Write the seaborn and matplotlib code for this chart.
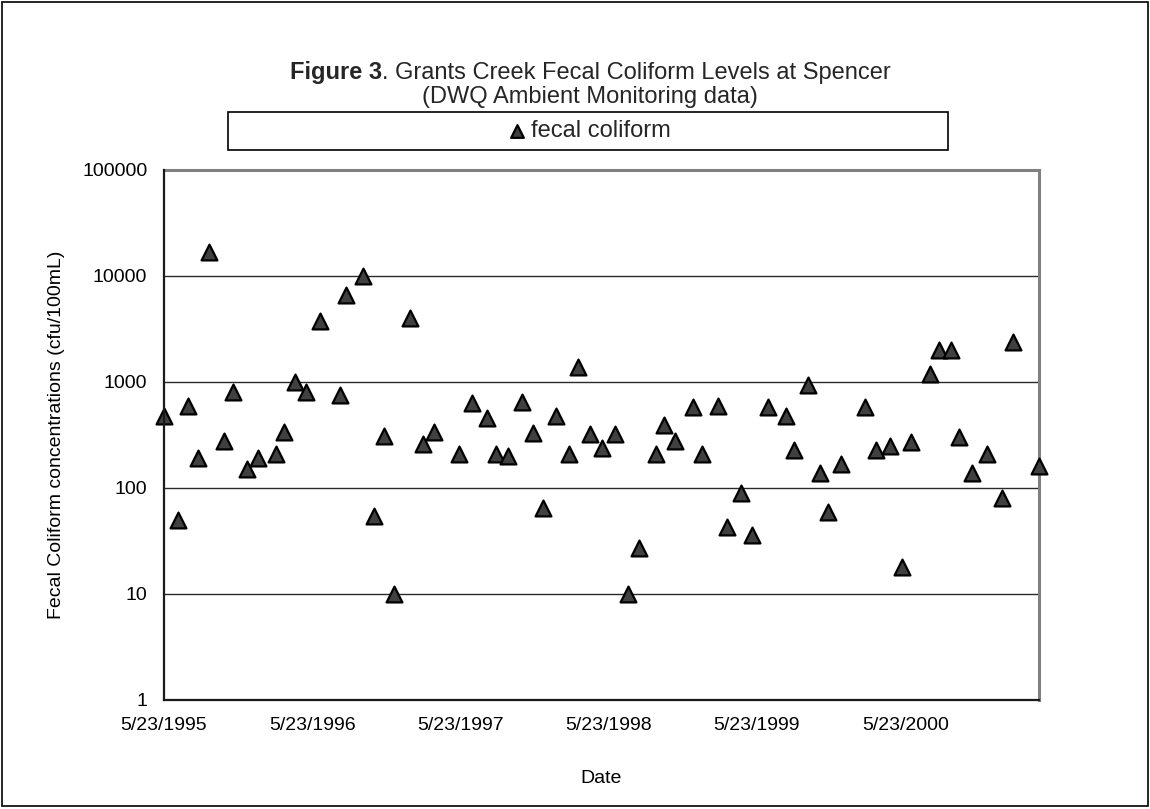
import matplotlib
matplotlib.use("Agg")
import matplotlib.pyplot as plt
from matplotlib.ticker import FixedLocator, FuncFormatter, NullLocator
from matplotlib.patches import Rectangle
import matplotlib.dates as mdates
import seaborn as sns
import pandas as pd

# Monthly ambient sampling, Grants Creek at Spencer
sample_dates = [
    "1995-05-23", "1995-06-26", "1995-07-21", "1995-08-15", "1995-09-12",
    "1995-10-19", "1995-11-08", "1995-12-14", "1996-01-10", "1996-02-24",
    "1996-03-13", "1996-04-11", "1996-05-08", "1996-06-11", "1996-07-30",
    "1996-08-13", "1996-09-25", "1996-10-21", "1996-11-14", "1996-12-10",
    "1997-01-17", "1997-02-19", "1997-03-18", "1997-05-19", "1997-06-19",
    "1997-07-28", "1997-08-19", "1997-09-17", "1997-10-22", "1997-11-17",
    "1997-12-11", "1998-01-12", "1998-02-13", "1998-03-09", "1998-04-06",
    "1998-05-06", "1998-06-08", "1998-07-09", "1998-08-05", "1998-09-16",
    "1998-10-07", "1998-11-01", "1998-12-16", "1999-01-07", "1999-02-15",
    "1999-03-11", "1999-04-13", "1999-05-10", "1999-06-20", "1999-08-02",
    "1999-08-23", "1999-09-27", "1999-10-25", "1999-11-14", "1999-12-16",
    "2000-02-13", "2000-03-12", "2000-04-15", "2000-05-15", "2000-06-06",
    "2000-07-23", "2000-08-14", "2000-09-11", "2000-10-03", "2000-11-04",
    "2000-12-10", "2001-01-16", "2001-02-11", "2001-04-16",
]
fecal_coliform = [
    480, 50, 600, 190, 17000,
    280, 800, 150, 190, 210,
    340, 1000, 800, 3800, 750,
    6600, 10000, 54, 310, 10,
    4000, 260, 340, 210, 640,
    460, 210, 200, 650, 330,
    65, 480, 210, 1400, 320,
    240, 320, 10, 27, 210,
    390, 280, 580, 210, 600,
    43, 90, 36, 580, 480,
    230, 930, 140, 60, 170,
    580, 230, 250, 18, 270,
    1200, 2000, 2000, 300, 140,
    210, 80, 2400, 160,
]
series_name = "fecal coliform"
y_tick_values = [1, 10, 100, 1000, 10000, 100000]
x_tick_dates = ["1995-05-23", "1996-05-23", "1997-05-23",
                "1998-05-23", "1999-05-23", "2000-05-23"]
x_limits = ("1995-05-23", "2001-04-17")

sns.set_theme(style="white")
plt.rcParams["font.family"] = ["Liberation Sans", "DejaVu Sans"]

W, H = 1150, 809
fig = plt.figure(figsize=(W / 100, H / 100), dpi=100)
fig.patch.set_facecolor("white")


def fx(px):
    return px / W


def fy(py):
    return 1 - py / H


# plot area in pixel terms
left, right, top, bottom = 164, 1039, 170, 700
ax = fig.add_axes([fx(left), fy(bottom), fx(right - left), (bottom - top) / H])

df = pd.DataFrame({"date": pd.to_datetime(sample_dates), "value": fecal_coliform})

sns.scatterplot(
    data=df, x="date", y="value", ax=ax, marker="^", s=130,
    color="#404040", edgecolor="black", linewidth=1.6, zorder=4,
    label=series_name, legend=False, clip_on=False,
)

ax.set_yscale("log")
ax.set_ylim(y_tick_values[0], y_tick_values[-1])
ax.yaxis.set_major_locator(FixedLocator(y_tick_values))
ax.yaxis.set_minor_locator(NullLocator())
ax.yaxis.set_major_formatter(FuncFormatter(lambda v, p: f"{int(round(v))}"))

ax.set_xlim(pd.Timestamp(x_limits[0]), pd.Timestamp(x_limits[1]))
tick_ts = [pd.Timestamp(d) for d in x_tick_dates]
ax.xaxis.set_major_locator(FixedLocator(mdates.date2num(tick_ts)))
ax.xaxis.set_minor_locator(NullLocator())
ax.xaxis.set_major_formatter(FuncFormatter(
    lambda v, p: (lambda d: f"{d.month}/{d.day}/{d.year}")(mdates.num2date(v))))

ax.grid(axis="y", which="major", color="#2a2a2a", linewidth=1.0, zorder=1)
ax.grid(axis="x", visible=False)
ax.set_axisbelow(True)

for side in ("top", "right"):
    ax.spines[side].set_color("#808080")
    ax.spines[side].set_linewidth(2.2)
for side in ("left", "bottom"):
    ax.spines[side].set_color("#1a1a1a")
    ax.spines[side].set_linewidth(1.6)
    ax.spines[side].set_zorder(5)

ax.tick_params(axis="both", which="major", direction="out", length=6,
               width=1.3, color="#1a1a1a", labelsize=14, labelcolor="black")
ax.tick_params(axis="x", pad=6)
ax.tick_params(axis="y", pad=6)

ax.set_xlabel("Date", fontsize=14, labelpad=26, color="black")
ax.set_ylabel("Fecal Coliform concentrations (cfu/100mL)", fontsize=14,
              labelpad=12, color="black")

# title: bold figure number followed by regular text
title_y = fy(73)
t1 = fig.text(0, title_y, "Figure 3", fontsize=17, fontweight="bold",
              ha="left", va="center")
t2 = fig.text(0, title_y, ". Grants Creek Fecal Coliform Levels at Spencer",
              fontsize=17, ha="left", va="center")
fig.canvas.draw()
rend = fig.canvas.get_renderer()
w1 = t1.get_window_extent(rend).width
w2 = t2.get_window_extent(rend).width
cx = 590
start = cx - (w1 + w2) / 2
t1.set_x(fx(start))
t2.set_x(fx(start + w1))
fig.text(fx(cx), fy(97), "(DWQ Ambient Monitoring data)", fontsize=17,
         ha="center", va="center")

# legend box
lx0, lx1, ly0, ly1 = 228, 948, 112, 150
fig.patches.append(Rectangle((fx(lx0), fy(ly1)), fx(lx1 - lx0), (ly1 - ly0) / H,
                             transform=fig.transFigure, facecolor="white",
                             edgecolor="black", linewidth=1.2, zorder=2))
handles, labels = ax.get_legend_handles_labels()
fig.legend(handles, labels, loc="center", bbox_to_anchor=(fx(588), fy(131)),
           frameon=False, fontsize=17, handletextpad=0.1, markerscale=0.8,
           borderpad=0, handlelength=1.0)

# chart area border
fig.patches.append(Rectangle((fx(1.5), fy(806)), fx(1146), 804.5 / H,
                             transform=fig.transFigure, facecolor="none",
                             edgecolor="black", linewidth=1.2, zorder=0))

fig.savefig("out.png", dpi=100)
